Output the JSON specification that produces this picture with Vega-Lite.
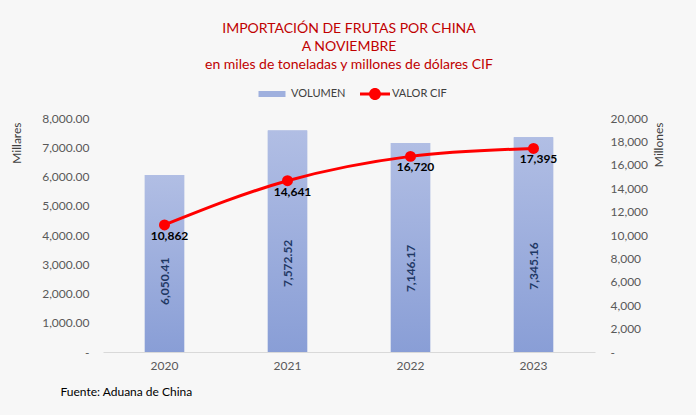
{
  "$schema": "https://vega.github.io/schema/vega-lite/v6.json",
  "width": 492,
  "height": 234,
  "autosize": "none",
  "padding": {"left": 103, "top": 118, "right": 101, "bottom": 63},
  "background": "#f7f7f7",
  "title": {
    "text": ["IMPORTACIÓN DE FRUTAS POR CHINA", "A NOVIEMBRE", "en miles de toneladas y millones de dólares CIF"],
    "color": "#c00000",
    "fontSize": 14,
    "fontWeight": "normal",
    "font": "Lato",
    "lineHeight": 18,
    "anchor": "middle",
    "offset": 7
  },
  "config": {
    "font": "Lato",
    "view": {"stroke": null},
    "axis": {"labelColor": "#595959", "labelFontSize": 12, "titleColor": "#404040", "titleFontSize": 12, "titleFontWeight": "normal", "grid": false, "ticks": false},
    "legend": {"labelColor": "#404040", "labelFontSize": 11, "symbolStrokeWidth": 0, "symbolSize": 900}
  },
  "data": {
    "values": [
      {"anio": "2020", "volumen": 6050.41, "valor": 10862},
      {"anio": "2021", "volumen": 7572.52, "valor": 14641},
      {"anio": "2022", "volumen": 7146.17, "valor": 16720},
      {"anio": "2023", "volumen": 7345.16, "valor": 17395}
    ]
  },
  "encoding": {
    "x": {
      "field": "anio", "type": "nominal",
      "scale": {"paddingInner": 0.68, "paddingOuter": 0.34},
      "axis": {
        "labelAngle": 0, "labelPadding": 8, "domainColor": "#d9d9d9",
        "title": "Fuente: Aduana de China", "titleX": -43, "titleY": 39,
        "titleAnchor": "start", "titleAlign": "left", "titleBaseline": "middle",
        "titleColor": "#000000", "titleFontSize": 12, "titleFontWeight": "normal"
      }
    }
  },
  "layer": [
    {
      "encoding": {
        "y": {
          "field": "volumen", "type": "quantitative",
          "scale": {"domain": [0, 8000]},
          "axis": {
            "orient": "left", "domain": false, "tickCount": 8, "labelPadding": 14,
            "labelExpr": "datum.value == 0 ? '-' : format(datum.value, ',.2f')",
            "title": "Millares", "titleAngle": -90, "titleX": -87, "titleY": 4,
            "titleAlign": "right", "titleBaseline": "middle"
          }
        }
      },
      "layer": [
        {
          "mark": {"type": "bar"},
          "encoding": {
            "fill": {
              "datum": "VOLUMEN", "type": "nominal",
              "scale": {"range": ["#9fb0de"]},
              "legend": {
                "orient": "none", "legendX": 154, "legendY": -39, "title": null,
                "symbolType": "M-0.9,-0.2H0.9V0.2H-0.9Z", "labelOffset": 4
              }
            }
          }
        },
        {
          "mark": {
            "type": "bar",
            "fill": {
              "gradient": "linear", "x1": 0, "y1": 0, "x2": 0, "y2": 1,
              "stops": [{"offset": 0, "color": "#b1bee4"}, {"offset": 1, "color": "#899ed6"}]
            }
          }
        }
      ]
    },
    {
      "encoding": {
        "y": {
          "field": "valor", "type": "quantitative",
          "scale": {"domain": [0, 20000]},
          "axis": {
            "orient": "right", "domain": false, "tickCount": 10, "labelPadding": 15,
            "labelExpr": "datum.value == 0 ? '-' : format(datum.value, ',.0f')",
            "title": "Millones", "titleAngle": -90, "titleX": 63, "titleY": 4,
            "titleAlign": "right", "titleBaseline": "middle"
          }
        }
      },
      "layer": [
        {
          "mark": {"type": "line", "color": "#ff0000", "strokeWidth": 3, "interpolate": "monotone"}
        },
        {
          "mark": {"type": "point", "filled": true, "opacity": 1, "size": 120},
          "encoding": {
            "color": {
              "datum": "VALOR CIF", "type": "nominal",
              "scale": {"range": ["#ff0000"]},
              "legend": {
                "orient": "none", "legendX": 257, "legendY": -39, "title": null,
                "symbolType": "M-1,-0.1H1V0.1H-1Z M0.4,0A0.4,0.4 0 1,1 -0.4,0A0.4,0.4 0 1,1 0.4,0Z",
                "labelOffset": 2
              }
            }
          }
        },
        {
          "mark": {"type": "text", "dx": 5, "dy": 11, "fontWeight": "bold", "fontSize": 12, "color": "#000000"},
          "encoding": {"text": {"field": "valor", "type": "quantitative", "format": ",.0f"}}
        }
      ]
    },
    {
      "mark": {"type": "text", "angle": 270, "fontWeight": "bold", "fontSize": 12, "color": "#1f3864"},
      "encoding": {
        "y": {"field": "volumen", "type": "quantitative", "scale": {"domain": [0, 20000]}, "axis": null},
        "text": {"field": "volumen", "type": "quantitative", "format": ",.2f"}
      }
    }
  ],
  "resolve": {"scale": {"y": "independent", "fill": "independent", "color": "independent"}}
}
